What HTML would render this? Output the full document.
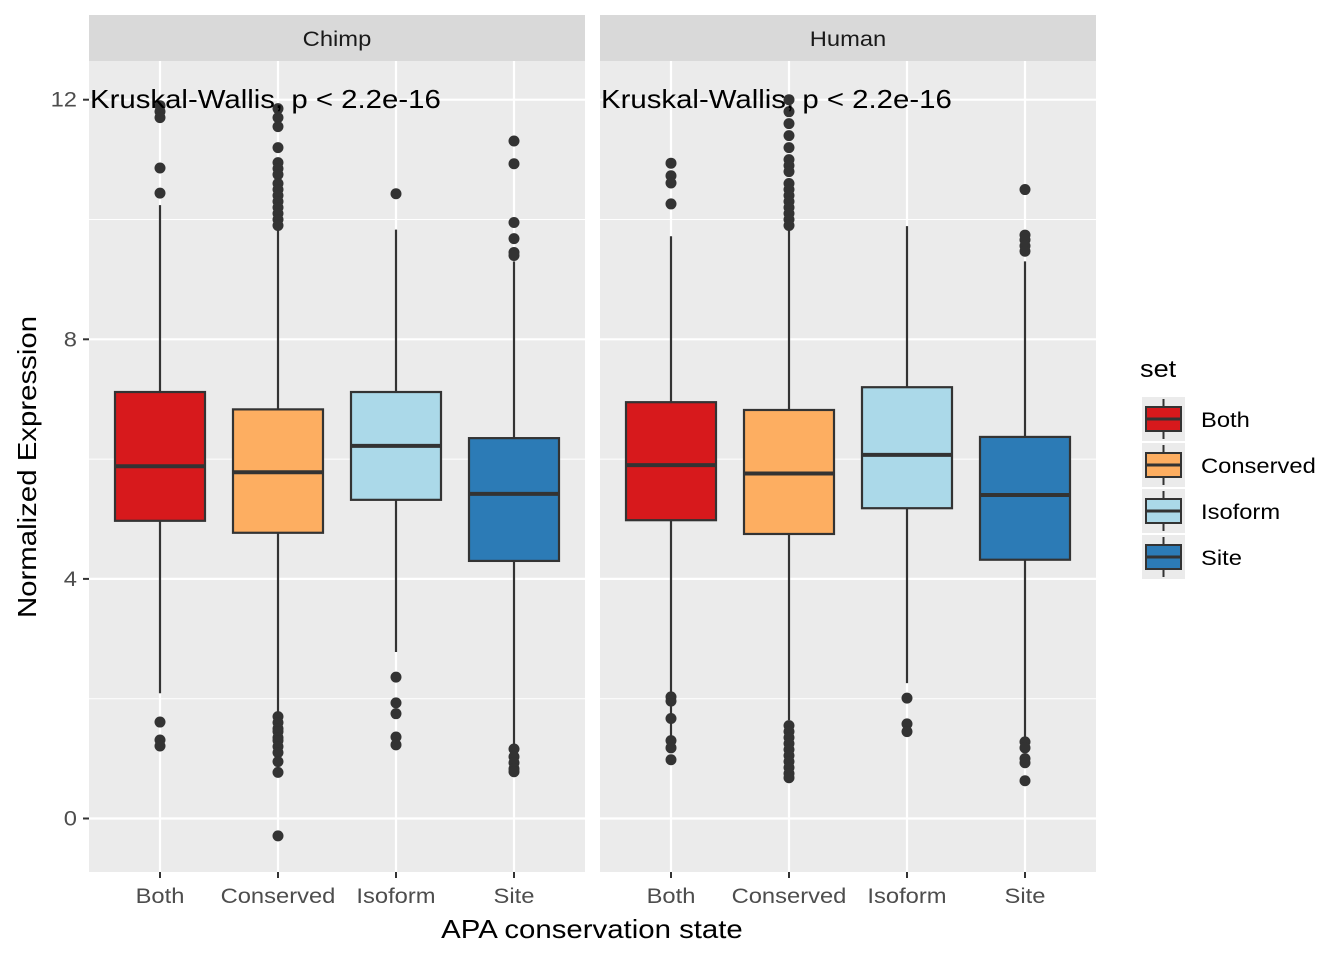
<!DOCTYPE html>
<html><head><meta charset="utf-8"><style>
body{margin:0;background:#fff;}
svg text{font-family:"Liberation Sans",Arial,sans-serif;}
</style></head><body>
<svg id="chart" width="1344" height="960" xmlns="http://www.w3.org/2000/svg"></svg>
<script>
const panels = ["Chimp","Human"];
const categories = ["Both","Conserved","Isoform","Site"];
const colors = ["#d7191c","#fdae61","#abd9e9","#2c7bb6"];
// [low whisker, q1, median, q3, high whisker] per panel per category
const chimpStats = [[2.09,4.97,5.88,7.12,10.24],[1.78,4.77,5.78,6.83,9.83],[2.78,5.32,6.22,7.12,9.83],[1.23,4.30,5.42,6.35,9.3]];
const humanStats = [[1.31,4.98,5.90,6.95,9.72],[1.64,4.75,5.76,6.82,9.83],[2.26,5.18,6.07,7.20,9.89],[1.31,4.32,5.40,6.37,9.3]];
const chimpOutliers = [
 [11.9,11.8,11.7,10.86,10.44,1.61,1.31,1.21],
 [11.85,11.7,11.55,11.2,10.95,10.85,10.75,10.6,10.5,10.4,10.3,10.2,10.1,10.0,9.9,1.7,1.6,1.5,1.45,1.35,1.3,1.2,1.1,0.95,0.77,-0.29],
 [10.43,2.36,1.93,1.75,1.36,1.23],
 [11.31,10.93,9.95,9.68,9.45,9.4,1.16,1.03,0.93,0.83,0.78]];
const humanOutliers = [
 [10.94,10.73,10.61,10.26,2.03,1.96,1.67,1.30,1.18,0.98],
 [12.0,11.8,11.6,11.4,11.2,11.0,10.9,10.8,10.6,10.5,10.4,10.3,10.2,10.1,10.0,9.9,1.55,1.45,1.35,1.25,1.15,1.05,0.95,0.85,0.75,0.68],
 [2.01,1.58,1.45],
 [10.5,9.74,9.66,9.56,9.47,1.28,1.18,1.0,0.93,0.63]];
const yTicks = [0,4,8,12];
const yMinor = [2,6,10];
const legendLabels = ["Both","Conserved","Isoform","Site"];

const svg = document.getElementById('chart');
const NS = "http://www.w3.org/2000/svg";
function mk(tag, attrs, parent){const e=document.createElementNS(NS,tag);for(const k in attrs)e.setAttribute(k,attrs[k]);(parent||svg).appendChild(e);return e;}
const yScale = v => 818.5 - v*59.9;
const panelX = [89,600], panelW = 496, plotTop=61, plotBottom=872;
const xCat = (p,i) => panelX[p] + 71 + i*118;
const boxW = 90;
const stats=[chimpStats,humanStats], outs=[chimpOutliers,humanOutliers];

panels.forEach((pn,p)=>{
  const g = mk('g',{});
  
  
  mk('rect',{x:panelX[p],y:plotTop,width:panelW,height:plotBottom-plotTop,fill:'#ebebeb'},g);
  const strip = mk('rect',{x:panelX[p],y:15,width:panelW,height:46,fill:'#d9d9d9'},g);
  
  
  const st = mk('text',{x:panelX[p]+panelW/2,y:46,'text-anchor':'middle','font-size':21,fill:'#1a1a1a'},g);
  st.textContent = pn;
  yMinor.forEach(v=>mk('line',{x1:panelX[p],x2:panelX[p]+panelW,y1:yScale(v),y2:yScale(v),stroke:'#fff','stroke-width':1},g));
  yTicks.forEach(v=>mk('line',{x1:panelX[p],x2:panelX[p]+panelW,y1:yScale(v),y2:yScale(v),stroke:'#fff','stroke-width':2.2},g));
  categories.forEach((c,i)=>mk('line',{x1:xCat(p,i),x2:xCat(p,i),y1:plotTop,y2:plotBottom,stroke:'#fff','stroke-width':2.2},g));
  categories.forEach((c,i)=>{
    const s = stats[p][i], x=xCat(p,i);
    const bg = mk('g',{},g);
    
    
    mk('line',{x1:x,x2:x,y1:yScale(s[0]),y2:yScale(s[1]),stroke:'#333','stroke-width':2.2},bg);
    mk('line',{x1:x,x2:x,y1:yScale(s[3]),y2:yScale(s[4]),stroke:'#333','stroke-width':2.2},bg);
    mk('rect',{x:x-boxW/2,y:yScale(s[3]),width:boxW,height:yScale(s[1])-yScale(s[3]),fill:colors[i],stroke:'#333','stroke-width':2.2},bg);
    mk('line',{x1:x-boxW/2,x2:x+boxW/2,y1:yScale(s[2]),y2:yScale(s[2]),stroke:'#333','stroke-width':4},bg);
    outs[p][i].forEach(v=>mk('circle',{cx:x,cy:yScale(v),r:5.5,fill:'#333'},bg));
    const tl = mk('text',{x:x,y:903,'text-anchor':'middle','font-size':21,fill:'#4d4d4d'});
    
    
    tl.textContent=c;
    mk('line',{x1:x,x2:x,y1:872,y2:878,stroke:'#333','stroke-width':2});
  });
  const kw = mk('text',{x:panelX[p]+1,y:108,'font-size':26,fill:'#000'});
  
  
  kw.textContent='Kruskal-Wallis, p < 2.2e-16';
});
yTicks.forEach(v=>{
  const t=mk('text',{x:77,y:yScale(v)+7,'text-anchor':'end','font-size':21,fill:'#4d4d4d'});
  
  
  t.textContent=v;
  mk('line',{x1:83,x2:89,y1:yScale(v),y2:yScale(v),stroke:'#333','stroke-width':2});
});
const xt=mk('text',{x:592,y:938,'text-anchor':'middle','font-size':26,fill:'#000'});


xt.textContent='APA conservation state';
const yt=mk('text',{x:0,y:0,'text-anchor':'middle','font-size':26,fill:'#000',transform:'translate(36,467) rotate(-90)'});


yt.textContent='Normalized Expression';
const lg=mk('g',{});


const lt=mk('text',{x:1140,y:377,'font-size':24,fill:'#000'},lg);
lt.textContent='set';
legendLabels.forEach((l,i)=>{
  const cy=419+i*46;
  const e=mk('g',{},lg);
  
  
  mk('rect',{x:1142,y:cy-22,width:43,height:44,fill:'#ebebeb'},e);
  mk('line',{x1:1163.5,x2:1163.5,y1:cy-20,y2:cy+20,stroke:'#333','stroke-width':2},e);
  mk('rect',{x:1146,y:cy-12,width:35,height:24,fill:colors[i],stroke:'#333','stroke-width':2},e);
  mk('line',{x1:1146,x2:1181,y1:cy,y2:cy,stroke:'#333','stroke-width':3},e);
  const t=mk('text',{x:1201,y:cy+8,'font-size':21,fill:'#000'},e);
  t.textContent=l;
});
// widen text to match reference font metrics
svg.querySelectorAll('text').forEach(t=>{
  const w=t.getComputedTextLength();
  if(w>0){t.setAttribute('textLength',(w*1.13).toFixed(1));t.setAttribute('lengthAdjust','spacingAndGlyphs');}
});
</script>
</body></html>
